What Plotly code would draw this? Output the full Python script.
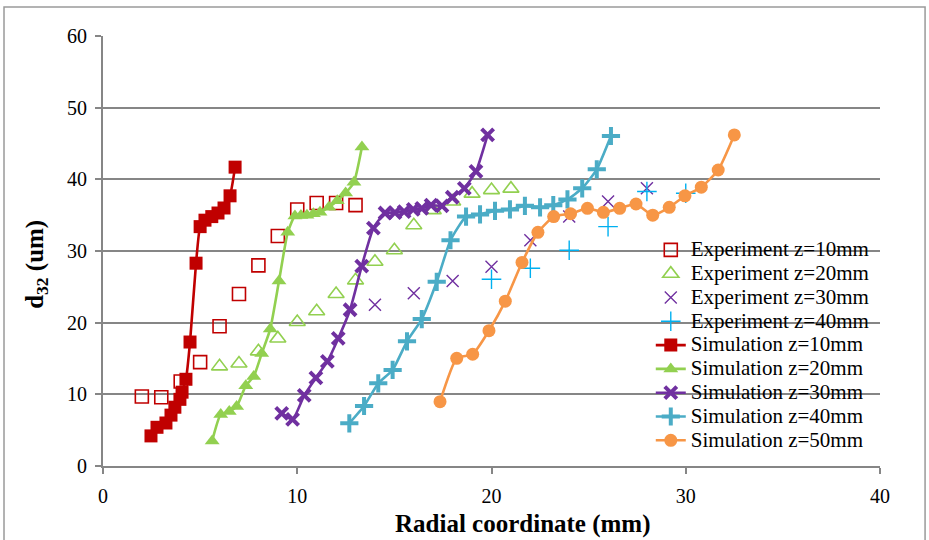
import plotly.graph_objects as go

# Experimental droplet size profiles (radial position in mm, d32 in um)
exp10_x = [2, 3, 4, 5, 6, 7, 8, 9, 10, 11, 12, 13]
exp10_y = [9.7, 9.6, 11.8, 14.5, 19.5, 24.0, 28.0, 32.1, 35.8, 36.7, 36.7, 36.4]

exp20_x = [6, 7, 8, 9, 10, 11, 12, 13, 14, 15, 16, 17, 18, 19, 20, 21]
exp20_y = [13.9, 14.3, 16.0, 17.8, 20.1, 21.6, 24.0, 25.9, 28.5, 30.1, 33.6, 35.7, 36.9, 38.0, 38.5, 38.7]

exp30_x = [14, 16, 18, 20, 22, 24, 26, 28]
exp30_y = [22.5, 24.1, 25.8, 27.8, 31.5, 34.8, 36.9, 38.75]

exp40_x = [20, 22, 24, 26, 28, 30]
exp40_y = [26.05, 27.6, 30.1, 33.4, 38.3, 38.05]

# Simulated profiles
sim10_x = [2.47, 2.78, 3.24, 3.5, 3.7, 3.96, 4.07, 4.27, 4.48, 4.79, 5.0, 5.25, 5.6, 5.92, 6.23, 6.54, 6.8]
sim10_y = [4.2, 5.4, 6.0, 7.1, 8.2, 9.3, 10.3, 12.1, 17.3, 28.3, 33.4, 34.3, 34.8, 35.3, 36.0, 37.7, 41.7]

sim20_x = [5.62, 6.06, 6.5, 6.88, 7.35, 7.76, 8.17, 8.61, 9.06, 9.51, 9.88, 10.19, 10.5, 10.83, 11.17,
           11.63, 12.06, 12.49, 12.92, 13.33]
sim20_y = [3.5, 7.2, 7.6, 8.3, 11.2, 12.5, 15.7, 19.1, 25.8, 32.6, 34.9, 34.95, 35.0, 35.2, 35.4,
           36.1, 37.0, 38.1, 39.6, 44.5]

sim30_x = [9.2, 9.76, 10.36, 10.96, 11.55, 12.11, 12.72, 13.32, 13.92, 14.52, 15.03, 15.5, 15.97, 16.41,
           16.89, 17.45, 17.98, 18.6, 19.2, 19.8]
sim30_y = [7.35, 6.5, 9.85, 12.3, 14.6, 17.8, 21.8, 27.9, 33.2, 35.3, 35.35, 35.5, 35.8, 35.96,
           36.4, 36.3, 37.5, 38.75, 41.1, 46.2]

sim40_x = [12.68, 13.44, 14.17, 14.91, 15.65, 16.41, 17.18, 17.89, 18.69, 19.41, 20.18, 20.95, 21.72,
           22.5, 23.18, 23.91, 24.67, 25.42, 26.15]
sim40_y = [5.96, 8.37, 11.54, 13.4, 17.4, 20.5, 25.7, 31.5, 34.8, 35.1, 35.6, 35.8, 36.3,
           36.1, 36.4, 37.2, 38.75, 41.4, 46.05]

sim50_x = [17.35, 18.21, 19.03, 19.87, 20.71, 21.57, 22.39, 23.2, 24.07, 24.94, 25.76, 26.6, 27.44,
           28.3, 29.15, 29.96, 30.8, 31.67, 32.5]
sim50_y = [8.97, 15.03, 15.59, 18.88, 23.0, 28.4, 32.6, 34.8, 35.2, 35.96, 35.4, 35.96, 36.56,
           35.0, 36.1, 37.7, 38.9, 41.3, 46.2]

x_ticks = [0, 10, 20, 30, 40]
y_ticks = [0, 10, 20, 30, 40, 50, 60]

FONT = "Liberation Serif"
GRID = "#868686"


def legend_label(text):
    # legend rows are kept tight while the label itself is drawn larger
    return f'<span style="font-size:21px">{text}</span>'


fig = go.Figure()

# experiment series: markers only
fig.add_trace(go.Scatter(x=exp10_x, y=exp10_y, mode="markers", name=legend_label("Experiment z=10mm"),
                         marker=dict(symbol="square-open", size=13, color="#C00000", line=dict(width=1.6))))
fig.add_trace(go.Scatter(x=exp20_x, y=exp20_y, mode="markers", name=legend_label("Experiment z=20mm"),
                         marker=dict(symbol="triangle-up-open", size=14, color="#92D050", line=dict(width=1.6))))
fig.add_trace(go.Scatter(x=exp30_x, y=exp30_y, mode="markers", name=legend_label("Experiment z=30mm"),
                         marker=dict(symbol="x-thin-open", size=12, color="#7030A0", line=dict(width=1.4, color="#7030A0"))))
fig.add_trace(go.Scatter(x=exp40_x, y=exp40_y, mode="markers", name=legend_label("Experiment z=40mm"),
                         marker=dict(symbol="cross-thin-open", size=14, color="#00B0F0", line=dict(width=1.4, color="#00B0F0"))))

# simulation series: smoothed lines with markers
line_kw = dict(width=2.6, shape="spline", smoothing=0.5)
fig.add_trace(go.Scatter(x=sim10_x, y=sim10_y, mode="lines+markers", name=legend_label("Simulation z=10mm"),
                         line=dict(color="#C00000", **line_kw),
                         marker=dict(symbol="square", size=13, color="#C00000")))
fig.add_trace(go.Scatter(x=sim20_x, y=sim20_y, mode="lines+markers", name=legend_label("Simulation z=20mm"),
                         line=dict(color="#92D050", **line_kw),
                         marker=dict(symbol="triangle-up", size=13, color="#92D050")))
fig.add_trace(go.Scatter(x=sim30_x, y=sim30_y, mode="lines+markers", name=legend_label("Simulation z=30mm"),
                         line=dict(color="#7030A0", **line_kw),
                         marker=dict(symbol="x-thin-open", size=12, color="#7030A0",
                                     line=dict(width=4, color="#7030A0"))))
fig.add_trace(go.Scatter(x=sim40_x, y=sim40_y, mode="lines+markers", name=legend_label("Simulation z=40mm"),
                         line=dict(color="#4BACC6", **line_kw),
                         marker=dict(symbol="cross-thin-open", size=13, color="#4BACC6",
                                     line=dict(width=4, color="#4BACC6"))))
fig.add_trace(go.Scatter(x=sim50_x, y=sim50_y, mode="lines+markers", name=legend_label("Simulation z=50mm"),
                         line=dict(color="#F79646", **line_kw),
                         marker=dict(symbol="circle", size=13, color="#F79646")))

fig.update_layout(
    width=929, height=540,
    margin=dict(l=103, r=49, t=36, b=74),
    paper_bgcolor="white", plot_bgcolor="white",
    font=dict(family=FONT, size=20, color="black"),
    showlegend=True,
    legend=dict(x=0.705, y=0.5419, xanchor="left", yanchor="top",
                bgcolor="rgba(0,0,0,0)", borderwidth=0,
                font=dict(family=FONT, size=16, color="black"),
                tracegroupgap=0),
    xaxis=dict(range=[0, 40], tickvals=x_ticks, showgrid=False, zeroline=False,
               showline=True, linecolor=GRID, linewidth=2,
               ticks="outside", ticklen=6, tickwidth=2, tickcolor=GRID,
               ticklabelstandoff=5, tickfont=dict(size=20)),
    yaxis=dict(range=[0, 60], tickvals=y_ticks, showgrid=True, gridcolor=GRID, gridwidth=1.6,
               zeroline=False, showline=True, linecolor=GRID, linewidth=2,
               ticks="outside", ticklen=6, tickwidth=2, tickcolor=GRID,
               ticklabelstandoff=4, tickfont=dict(size=20)),
    annotations=[
        dict(text="<b>Radial coordinate (mm)</b>", xref="paper", yref="paper",
             x=0.5405, y=-0.135, xanchor="center", yanchor="middle", showarrow=False,
             font=dict(family=FONT, size=25)),
        dict(text="<b>d<sub>32</sub> (um)</b>", xref="paper", yref="paper",
             x=-0.085, y=0.47, xanchor="center", yanchor="middle", showarrow=False,
             textangle=-90, font=dict(family=FONT, size=25)),
    ],
    shapes=[
        dict(type="rect", xref="paper", yref="paper", x0=-0.1274, x1=1.058, y0=-0.2, y1=1.0674,
             line=dict(color="#9a9a9a", width=1.5), fillcolor="rgba(0,0,0,0)", layer="below"),
    ],
)

fig.write_html("out.html")
